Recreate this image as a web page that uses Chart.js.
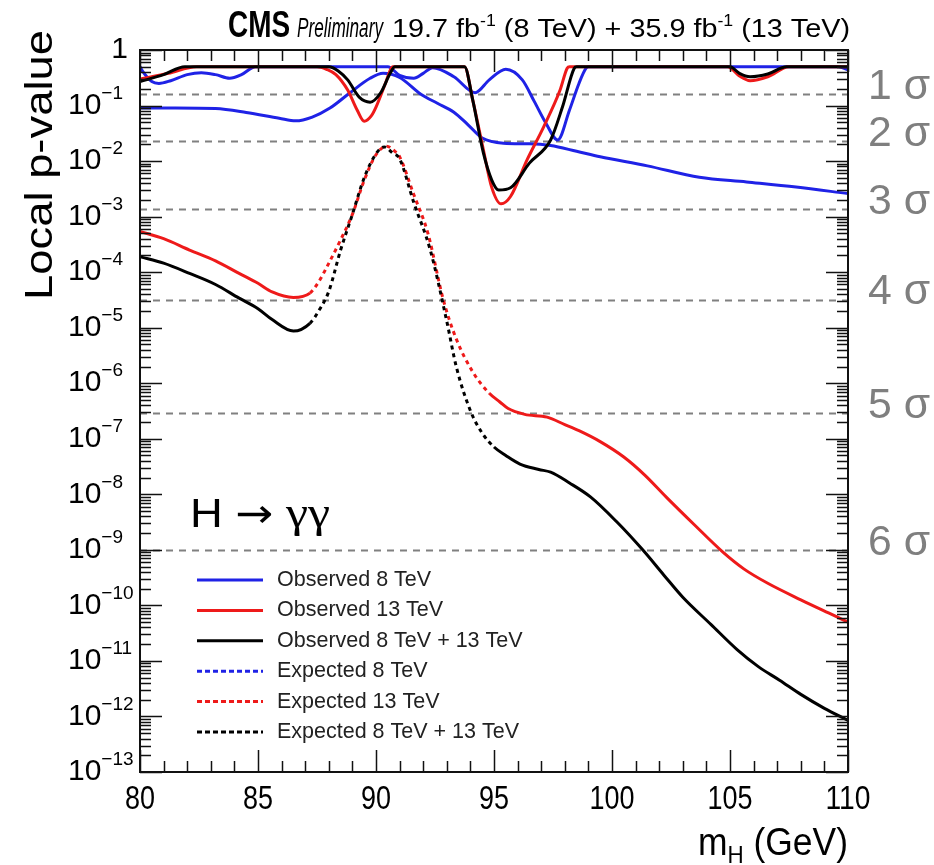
<!DOCTYPE html>
<html lang="en">
<head>
    <meta charset="UTF-8">
    <title>Local p-value H to gamma gamma</title>
    <script src="https://cdn.jsdelivr.net/npm/chart.js"></script>
    <style>
        body { margin: 0; background: #fff; }
        canvas { display: block; }
    </style>
</head>
<body>
    <canvas id="pvalChart" width="934" height="865"></canvas>
    <script>
        // observed curves (p-values are capped at 0.5)
        const obs8Mass = [80, 80.1, 80.5, 80.8, 81.3, 82.0, 82.6, 83.2, 83.8, 84.3, 84.9, 90.5, 91.0, 91.6, 92.0, 92.4, 93.3, 94.2, 94.8, 95.5, 96.2, 96.7, 97.2, 97.7, 98.2, 98.6, 98.9, 99.0, 109.6, 110];
        const obs8P = [0.5, 0.42, 0.27, 0.25, 0.28, 0.36, 0.39, 0.36, 0.31, 0.36, 0.5, 0.5, 0.35, 0.31, 0.38, 0.48, 0.33, 0.17, 0.29, 0.45, 0.29, 0.12, 0.048, 0.024, 0.083, 0.25, 0.47, 0.5, 0.5, 0.44];

        const obs13Mass = [80, 81.2, 82.4, 87.5, 87.9, 88.3, 88.8, 89.2, 89.5, 89.8, 90.0, 90.4, 90.7, 93.75, 94.1, 94.55, 94.9, 95.3, 95.7, 96.4, 97.1, 97.8, 98.1, 98.2, 104.9, 105.4, 105.85, 106.6, 107.5, 110];
        const obs13P = [0.30, 0.38, 0.5, 0.5, 0.45, 0.36, 0.19, 0.083, 0.052, 0.065, 0.094, 0.25, 0.5, 0.5, 0.125, 0.016, 0.0034, 0.0017, 0.0023, 0.0105, 0.041, 0.19, 0.47, 0.5, 0.5, 0.34, 0.28, 0.33, 0.5, 0.5];

        const obsCombMass = [80, 81.0, 81.9, 88.0, 88.4, 88.8, 89.3, 89.75, 90.2, 90.6, 90.8, 93.75, 94.1, 94.55, 94.9, 95.2, 95.7, 96.5, 97.4, 97.9, 98.4, 98.5, 105.0, 105.4, 105.85, 106.6, 107.4, 110];
        const obsCombP = [0.27, 0.36, 0.5, 0.5, 0.42, 0.29, 0.14, 0.115, 0.17, 0.38, 0.5, 0.5, 0.125, 0.014, 0.0046, 0.003, 0.0033, 0.0092, 0.024, 0.094, 0.47, 0.5, 0.5, 0.38, 0.33, 0.37, 0.5, 0.5];

        // expected curves
        const exp8Mass = [80, 81.5, 83.2, 84.5, 85.9, 86.6, 87.3, 88.05, 88.9, 89.75, 90.3, 91.0, 91.9, 92.6, 93.3, 93.9, 94.5, 95.4, 96.5, 97.4, 98.5, 99.5, 101.5, 103.7, 105.7, 107.8, 110];
        const exp8P = [0.09, 0.09, 0.088, 0.075, 0.059, 0.053, 0.062, 0.09, 0.17, 0.31, 0.38, 0.32, 0.16, 0.11, 0.076, 0.045, 0.026, 0.021, 0.0205, 0.019, 0.015, 0.012, 0.0082, 0.0051, 0.0042, 0.0034, 0.0026];

        const exp13Mass = [80, 81, 82.1, 83.2, 84.2, 85.0, 85.6, 86.5, 87.2, 87.6, 87.9, 88.5, 89.0, 89.5, 90.0, 90.45, 90.8, 91.0, 91.6, 92.2, 92.85, 93.4, 94.1, 94.8, 95.25, 95.6, 96.3, 97.25, 98.0, 98.6, 99.5, 100.5, 101.4, 102.3, 103.5, 104.7, 105.6, 106.6, 108.0, 109.4, 110];
        const exp13P = [5.4e-4, 4.0e-4, 2.5e-4, 1.6e-4, 9.5e-5, 6.3e-5, 4.4e-5, 3.5e-5, 4.2e-5, 7.0e-5, 1.2e-4, 3.8e-4, 1.1e-3, 4.5e-3, 1.3e-2, 1.85e-2, 1.5e-2, 1.2e-2, 2.5e-3, 5.0e-4, 3.2e-5, 6.3e-6, 1.6e-6, 6.6e-7, 4.6e-7, 3.5e-7, 2.75e-7, 2.45e-7, 1.8e-7, 1.4e-7, 8.9e-8, 4.7e-8, 2.2e-8, 8.9e-9, 2.8e-9, 9.1e-10, 4.5e-10, 2.5e-10, 1.26e-10, 6.6e-11, 5.0e-11];

        const expCombMass = [80, 81, 82.1, 83.2, 84.2, 85.0, 85.6, 86.5, 87.2, 87.6, 88.0, 88.5, 89.0, 89.5, 90.0, 90.35, 90.7, 91.0, 91.6, 92.3, 93.0, 93.4, 94.0, 94.5, 95.0, 95.5, 96.1, 96.9, 97.4, 98.2, 99.1, 100.2, 101.3, 102.2, 103.0, 104.2, 105.3, 106.2, 107.1, 108.0, 109.0, 110];
        const expCombP = [1.9e-4, 1.45e-4, 9.5e-5, 6.0e-5, 3.4e-5, 2.2e-5, 1.4e-5, 8.7e-6, 1.2e-5, 2.1e-5, 4.5e-5, 2.5e-4, 1.1e-3, 5.0e-3, 1.35e-2, 1.8e-2, 1.4e-2, 1.1e-2, 1.8e-3, 2.5e-4, 1.3e-5, 2.0e-6, 3.2e-7, 1.26e-7, 7.1e-8, 5.0e-8, 3.5e-8, 2.8e-8, 2.5e-8, 1.6e-8, 8.9e-9, 3.2e-9, 1.0e-9, 3.5e-10, 1.4e-10, 4.5e-11, 1.6e-11, 7.9e-12, 4.5e-12, 2.5e-12, 1.4e-12, 8.5e-13];

        // local p-values of the n-sigma reference lines
        const sigmaLabels = ['1 σ', '2 σ', '3 σ', '4 σ', '5 σ', '6 σ'];
        const sigmaP = [0.1587, 0.02275, 0.00135, 3.167e-5, 2.867e-7, 9.866e-10];

        const xTickLabels = [80, 85, 90, 95, 100, 105, 110];
        const yTickExponents = [-13, -12, -11, -10, -9, -8, -7, -6, -5, -4, -3, -2, -1, 0];

        const BLUE = '#1f22e6', RED = '#ee1a1a', BLACK = '#000000';
        // the steep part of the expected curves shows its dashes
        const dashFrom = 87.2, dashTo = 94.6;

        function pts(mass, p) { return mass.map((m, i) => ({ x: m, y: p[i] })); }
        function dashSteep(ctx) {
            const x0 = ctx.p0.parsed.x;
            return (x0 >= dashFrom && x0 < dashTo) ? [4, 4] : undefined;
        }

        const datasets = [
            { label: 'Observed 8 TeV', data: pts(obs8Mass, obs8P), borderColor: BLUE, order: 3, legendDash: [] },
            { label: 'Observed 13 TeV', data: pts(obs13Mass, obs13P), borderColor: RED, order: 2, legendDash: [] },
            { label: 'Observed 8 TeV + 13 TeV', data: pts(obsCombMass, obsCombP), borderColor: BLACK, order: 1, legendDash: [] },
            { label: 'Expected 8 TeV', data: pts(exp8Mass, exp8P), borderColor: BLUE, order: 3, legendDash: [5, 3] },
            { label: 'Expected 13 TeV', data: pts(exp13Mass, exp13P), borderColor: RED, order: 2, legendDash: [5, 3], segment: { borderDash: dashSteep } },
            { label: 'Expected 8 TeV + 13 TeV', data: pts(expCombMass, expCombP), borderColor: BLACK, order: 1, legendDash: [5, 3], segment: { borderDash: dashSteep } }
        ];

        // draw a list of text runs, optionally squeezed to a given width
        function drawRuns(ctx, runs, x, y, width, align) {
            let natural = 0;
            runs.forEach(r => { ctx.font = r.font; natural += ctx.measureText(r.t).width; });
            const w = width || natural;
            const s = w / natural;
            ctx.save();
            let x0 = x;
            if (align === 'right') x0 = x - w;
            if (align === 'center') x0 = x - w / 2;
            ctx.translate(x0, y);
            ctx.scale(s, 1);
            let cx = 0;
            runs.forEach(r => {
                ctx.font = r.font;
                ctx.fillText(r.t, cx, r.dy || 0);
                cx += ctx.measureText(r.t).width;
            });
            ctx.restore();
        }

        const F = '"Liberation Sans", Arial, Helvetica, sans-serif';

        const rootStyle = {
            id: 'rootStyle',
            beforeDatasetsDraw(chart) {
                const ctx = chart.ctx, a = chart.chartArea, ys = chart.scales.y;
                ctx.save();
                ctx.strokeStyle = '#808080';
                ctx.lineWidth = 2;
                ctx.setLineDash([7, 6]);
                sigmaP.forEach(p => {
                    const py = Math.round(ys.getPixelForValue(p)) + 0.5;
                    ctx.beginPath();
                    ctx.moveTo(a.left, py);
                    ctx.lineTo(a.right, py);
                    ctx.stroke();
                });
                ctx.restore();
            },
            afterDatasetsDraw(chart) {
                const ctx = chart.ctx, a = chart.chartArea, xs = chart.scales.x, ys = chart.scales.y;
                ctx.save();
                ctx.strokeStyle = '#111';
                ctx.lineWidth = 1.5;
                ctx.beginPath();
                for (let m = xs.min; m <= xs.max; m += 1) {
                    const len = (m % 5 === 0) ? 22 : 11;
                    const px = Math.round(xs.getPixelForValue(m)) + 0.5;
                    ctx.moveTo(px, a.bottom); ctx.lineTo(px, a.bottom - len);
                    ctx.moveTo(px, a.top); ctx.lineTo(px, a.top + len);
                }
                yTickExponents.forEach(e => {
                    for (let k = 1; k <= 9; k++) {
                        const v = k * Math.pow(10, e);
                        if (v > ys.max * 1.0001) break;
                        const len = k === 1 ? 22 : 11;
                        const py = Math.round(ys.getPixelForValue(v)) + 0.5;
                        ctx.moveTo(a.left, py); ctx.lineTo(a.left + len, py);
                        ctx.moveTo(a.right, py); ctx.lineTo(a.right - len, py);
                    }
                });
                ctx.stroke();
                ctx.lineWidth = 2;
                ctx.strokeRect(a.left, a.top, a.right - a.left, a.bottom - a.top);
                ctx.restore();
            },
            afterDraw(chart) {
                const ctx = chart.ctx, a = chart.chartArea, xs = chart.scales.x, ys = chart.scales.y;
                ctx.save();
                ctx.fillStyle = '#000';
                ctx.textBaseline = 'middle';

                // y tick labels
                yTickExponents.forEach(e => {
                    const py = ys.getPixelForValue(Math.pow(10, e));
                    if (e === 0) {
                        drawRuns(ctx, [{ t: '1', font: '30px ' + F }], a.left - 12, py, null, 'right');
                    } else {
                        drawRuns(ctx, [{ t: '10', font: '30px ' + F }, { t: '−' + Math.abs(e), font: '19px ' + F, dy: -12 }], 68, py, null, 'left');
                    }
                });

                // x tick labels
                xTickLabels.forEach(m => {
                    const t = String(m);
                    drawRuns(ctx, [{ t: t, font: '33px ' + F }], xs.getPixelForValue(m), a.bottom + 28, t.length * 15, 'center');
                });

                // axis titles
                ctx.textBaseline = 'alphabetic';
                drawRuns(ctx, [{ t: 'm', font: '38px ' + F }, { t: 'H', font: '24px ' + F, dy: 8 }, { t: ' (GeV)', font: '38px ' + F }], a.right, 855, 150, 'right');
                ctx.save();
                ctx.translate(52, 300);
                ctx.rotate(-Math.PI / 2);
                drawRuns(ctx, [{ t: 'Local p-value', font: '38px ' + F }], 0, 0, 270, 'left');
                ctx.restore();

                // header
                drawRuns(ctx, [{ t: 'CMS', font: 'bold 36px ' + F }], 228, 37, 62, 'left');
                drawRuns(ctx, [{ t: 'Preliminary', font: 'italic 28px ' + F }], 297, 37, 86, 'left');
                drawRuns(ctx, [
                    { t: '19.7 fb', font: '26px ' + F },
                    { t: '-1', font: '16px ' + F, dy: -11 },
                    { t: ' (8 TeV) + 35.9 fb', font: '26px ' + F },
                    { t: '-1', font: '16px ' + F, dy: -11 },
                    { t: ' (13 TeV)', font: '26px ' + F }
                ], 392, 37, 458, 'left');

                // channel label
                drawRuns(ctx, [
                    { t: 'H ', font: '40px ' + F },
                    { t: '→', font: '40px "DejaVu Sans", sans-serif' },
                    { t: ' γγ', font: '44px "Liberation Serif", serif' }
                ], 190, 527, 140, 'left');

                // sigma labels
                ctx.fillStyle = '#7f7f7f';
                ctx.textBaseline = 'middle';
                sigmaP.forEach((p, i) => {
                    drawRuns(ctx, [{ t: sigmaLabels[i], font: '42px ' + F }], 868, ys.getPixelForValue(p) - 7, 62, 'left');
                });

                // legend
                ctx.fillStyle = '#222';
                chart.data.datasets.forEach((ds, i) => {
                    const ly = 580 + i * 30.4;
                    ctx.save();
                    ctx.strokeStyle = ds.borderColor;
                    ctx.lineWidth = 3;
                    ctx.setLineDash(ds.legendDash);
                    ctx.beginPath();
                    ctx.moveTo(197, ly);
                    ctx.lineTo(263, ly);
                    ctx.stroke();
                    ctx.restore();
                    drawRuns(ctx, [{ t: ds.label, font: '21.5px ' + F }], 277, ly, null, 'left');
                });
                ctx.restore();
            }
        };

        new Chart(document.getElementById('pvalChart').getContext('2d'), {
            type: 'line',
            data: { datasets: datasets },
            options: {
                responsive: false,
                animation: false,
                layout: { padding: { left: 140, right: 86, top: 50, bottom: 93 } },
                elements: {
                    point: { radius: 0 },
                    line: { borderWidth: 3, cubicInterpolationMode: 'monotone' }
                },
                scales: {
                    x: { type: 'linear', min: 80, max: 110, display: false },
                    y: { type: 'logarithmic', min: 1e-13, max: 1, display: false }
                },
                plugins: {
                    legend: { display: false },
                    tooltip: { enabled: false }
                }
            },
            plugins: [rootStyle]
        });
    </script>
</body>
</html>
